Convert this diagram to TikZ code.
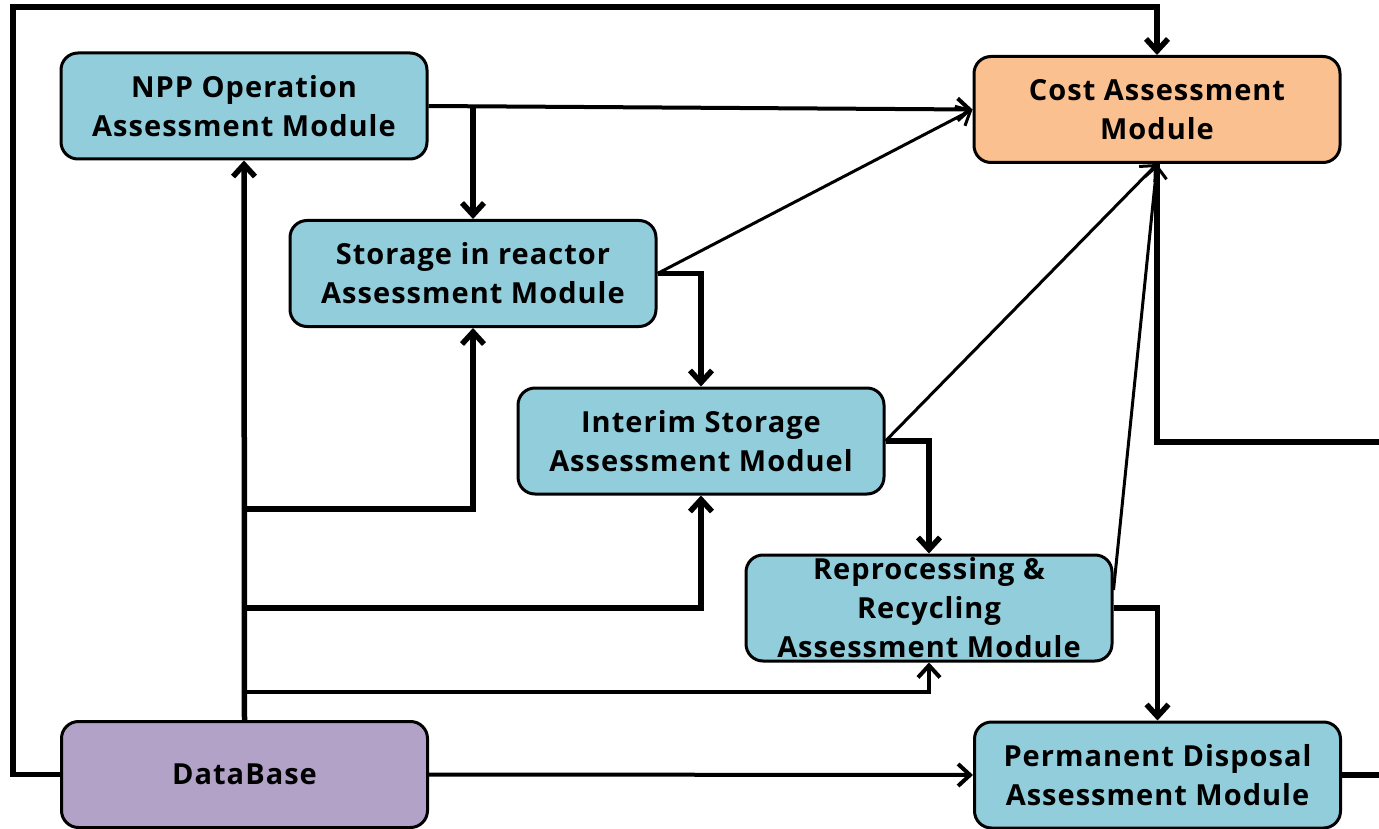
\documentclass[tikz,border=0pt]{standalone}
\usepackage{fontspec}
\setmainfont{Open Sans}
\newfontfamily\modfont{Open Sans}[LetterSpace=3.5]
\usetikzlibrary{arrows.meta}
\definecolor{modblue}{RGB}{146,205,220}
\definecolor{costorange}{RGB}{250,192,144}
\definecolor{dbpurple}{RGB}{179,162,199}

\begin{document}
\begin{tikzpicture}[x=1pt,y=-1pt,
  >={Straight Barb[length=12pt,width=22pt]},
  module/.style={draw=black, line width=3pt, rounded corners=17pt,
    minimum width=366pt, minimum height=106pt, inner sep=0pt,
    fill=modblue, align=center,
    font=\modfont\bfseries\fontsize{29}{39}\selectfont},
  modtext/.style={align=center, inner sep=0pt,
    font=\modfont\bfseries\fontsize{29}{39}\selectfont},
  heavy/.style={line width=5.5pt},
  medium/.style={line width=4pt},
  light/.style={line width=3pt}]
\useasboundingbox (0,0) rectangle (1379,829);

% modules
\node[module] (npp) at (244,106) {NPP Operation\\Assessment Module};
\node[module, fill=costorange] (cost) at (1157,109.5) {Cost Assessment\\Module};
\node[module] (sir) at (473,273.5) {Storage in reactor\\Assessment Module};
\node[module] (interim) at (701,441) {Interim Storage\\Assessment Moduel};
\node[module] (reproc) at (929,608) {};
\node[modtext] (reproctext) at (reproc.center) {Reprocessing \&\\Recycling\\Assessment Module};
\node[module, fill=dbpurple] (db) at (244.5,774.5) {DataBase};
\node[module] (perm) at (1157.5,775) {Permanent Disposal\\Assessment Module};

% junctions and free ends
\coordinate (loopcorner) at (13,7);
\coordinate (j1) at (245,509);
\coordinate (j2) at (245,608);
\coordinate (j3) at (245,692);
\coordinate (costout) at (1379,442);
\coordinate (permout) at (1379,775);

% feedback loop from the database to the cost module
\draw[heavy,->] (db.west) -| (loopcorner) -| (cost.north);

% module chain
\draw[medium,->] (npp.east) -- (cost.west);
\draw[heavy,->] (npp.east -| sir.north) -- (sir.north);
\draw[light,->] (sir.east) -- (cost.west);
\draw[heavy,->] (sir.east) -| (interim.north);
\draw[light,->] (interim.east) -- (cost.south);
\draw[heavy,->] (interim.east) -| (reproc.north);
\draw[light,->] ([yshift=18pt]reproc.east) -- (cost.south);
\draw[heavy,->] (reproc.east) -| (perm.north);
\draw[heavy] (cost.south) |- (costout);
\draw[heavy] (perm.east) -- (permout);

% database feeds
\draw[medium,->] (db.east) -- (perm.west);
\draw[heavy,->] (db.north) -- (npp.south);
\draw[heavy,->] (j1) -| (sir.south);
\draw[heavy,->] (j2) -| (interim.south);
\draw[medium,->] (j3) -| (reproc.south);
\end{tikzpicture}
\end{document}
